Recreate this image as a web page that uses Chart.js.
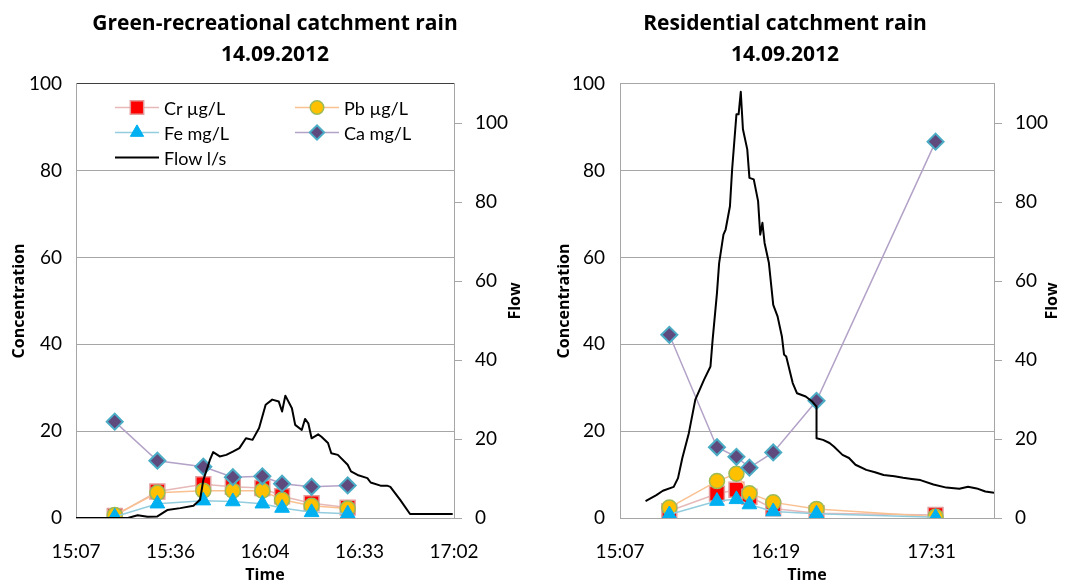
<!DOCTYPE html>
<html>
<head>
<meta charset="utf-8">
<title>Catchment rain 14.09.2012</title>
<script src="https://cdn.jsdelivr.net/npm/chart.js@4.4.1/dist/chart.umd.min.js"></script>
<style>
    body { margin: 0; background: #fff; }
    #wrap { position: relative; width: 1073px; height: 585px; overflow: hidden; font-family: Lato, sans-serif; }
    #c1 { position: absolute; left: 0; top: 0; }
    #c2 { position: absolute; left: 497px; top: 0; }
    #legend { position: absolute; left: 115px; top: 95px; display: grid; grid-template-columns: 180px 180px; }
    .item { display: flex; align-items: center; height: 25px; font-size: 18px; color: #000; white-space: nowrap; }
    .item canvas { margin-right: 5px; }
</style>
</head>
<body>
<div id="wrap">
    <canvas id="c1" width="550" height="585"></canvas>
    <canvas id="c2" width="576" height="585"></canvas>
    <div id="legend"></div>
</div>
<script>
// Axis ticks (time ticks are fractions of a day, as in the spreadsheet)
const concTicks = [0, 20, 40, 60, 80, 100];
const flowTicks = [0, 20, 40, 60, 80, 100];
const greenTimeTicks = [0.63, 0.65, 0.67, 0.69, 0.71];
const resTimeTicks = [0.63, 0.68, 0.73];

// Green-recreational catchment
const greenTimes = ['15:19', '15:32', '15:46', '15:55', '16:04', '16:10', '16:19', '16:30'];
const greenCr = [0.5, 6.1, 7.8, 7.2, 6.9, 5.0, 3.4, 2.4];
const greenPb = [0.7, 5.8, 6.3, 6.3, 6.3, 4.2, 2.8, 2.2];
const greenFe = [0.3, 3.3, 4.0, 3.8, 3.3, 2.3, 1.3, 1.0];
const greenCa = [22.2, 13.2, 11.8, 9.4, 9.6, 7.9, 7.2, 7.5];
const greenFlowTimes = ['15:07', '15:23', '15:26', '15:29', '15:32', '15:35', '15:39', '15:43', '15:45', '15:46',
    '15:48', '15:49', '15:51', '15:53', '15:55', '15:57', '15:59', '16:01', '16:03', '16:05',
    '16:07', '16:09', '16:10', '16:11', '16:13', '16:14', '16:16', '16:17', '16:18', '16:19',
    '16:21', '16:22', '16:24', '16:25', '16:27', '16:30', '16:31', '16:33', '16:36', '16:37',
    '16:40', '16:42', '16:43', '16:46', '16:49', '17:02'];
const greenFlow = [0, 0, 0.7, 0.3, 0.4, 2, 2.5, 3.1, 4.6, 9.6,
    14.7, 16.7, 15.6, 16, 16.8, 17.7, 20.2, 19.8, 22.8, 28.7,
    30, 29.5, 27, 31, 27.8, 23.6, 22.3, 25.1, 24, 20.2,
    21.2, 20.6, 19, 16.4, 16, 13.5, 11.8, 10.9, 10.1, 9,
    8.2, 8.2, 7.9, 4.6, 1.0, 1.0];

// Residential catchment
const resTimes = ['15:30', '15:52', '16:01', '16:07', '16:18', '16:38', '17:33'];
const resCr = [1.6, 5.6, 6.5, 4.9, 2.2, 1.1, 0.7];
const resPb = [2.4, 8.5, 10.2, 5.7, 3.6, 2.1, 0.3];
const resFe = [0.8, 3.9, 4.3, 3.1, 1.5, 1.0, 0.2];
const resCa = [42.2, 16.3, 14.1, 11.6, 15.1, 27.0, 86.7];
const resFlowTimes = ['15:19', '15:24', '15:27', '15:32', '15:34', '15:36', '15:39', '15:42', '15:46', '15:49',
    '15:50', '15:52', '15:53', '15:55', '15:56', '15:58', '15:59', '16:01', '16:02', '16:03',
    '16:04', '16:06', '16:07', '16:09', '16:11', '16:12', '16:13', '16:14', '16:16', '16:18',
    '16:20', '16:22', '16:23', '16:24', '16:27', '16:29', '16:33', '16:36', '16:38', '16:38',
    '16:41', '16:44', '16:46', '16:50', '16:53', '16:56', '17:01', '17:05', '17:09', '17:14',
    '17:18', '17:22', '17:26', '17:32', '17:38', '17:44', '17:48', '17:52', '17:56', '18:00'];
const resFlow = [4.3, 5.8, 6.9, 7.9, 10.1, 15.2, 21.5, 30, 35, 38.4,
    45.2, 57, 64.6, 71.8, 73.1, 79, 88.3, 102.3, 102.3, 108,
    98.5, 93.4, 86.2, 85.8, 80.3, 71.8, 74.8, 69.7, 64.6, 54,
    51.1, 46, 41.4, 40.9, 34.2, 31.6, 30.8, 29.5, 28.2, 20.2,
    19.8, 19.0, 18.1, 16, 15.2, 13.5, 12.2, 11.6, 10.9, 10.6,
    10.2, 9.9, 9.6, 8.5, 7.7, 7.4, 7.9, 7.5, 6.7, 6.4];

const FONT = 'Lato';
const BOLD = '"Open Sans"';
const GRID = '#A6A6A6';

// "HH:MM" -> minutes of the day
function toMin(t) {
    const p = t.split(':');
    return Number(p[0]) * 60 + Number(p[1]);
}

// minutes of the day -> "HH:MM"
function fmtTime(m) {
    const v = Math.floor(m + 1e-6);
    const h = Math.floor(v / 60);
    const mm = v % 60;
    return h + ':' + (mm < 10 ? '0' : '') + mm;
}

function points(times, values) {
    return times.map((t, i) => ({ x: toMin(t), y: values[i] }));
}

function seriesSets(times, cr, pb, fe, ca, flowTimes, flow) {
    return [{
        label: 'Flow l/s',
        data: points(flowTimes, flow),
        yAxisID: 'y1',
        borderColor: '#000000',
        borderWidth: 2,
        pointRadius: 0,
        borderJoinStyle: 'round',
        order: 0
    }, {
        label: 'Ca mg/L',
        data: points(times, ca),
        yAxisID: 'y',
        borderColor: '#B3A2C7',
        borderWidth: 1.5,
        pointStyle: 'rectRot',
        pointRadius: 8,
        pointBackgroundColor: '#5F4A7E',
        pointBorderColor: '#4BACC6',
        pointBorderWidth: 2,
        order: 1
    }, {
        label: 'Fe mg/L',
        data: points(times, fe),
        yAxisID: 'y',
        borderColor: '#93CDDD',
        borderWidth: 1.5,
        pointStyle: 'triangle',
        pointRadius: 8.5,
        pointBackgroundColor: '#00B0F0',
        pointBorderColor: '#00B0F0',
        pointBorderWidth: 1,
        order: 2
    }, {
        label: 'Pb µg/L',
        data: points(times, pb),
        yAxisID: 'y',
        borderColor: '#FAC090',
        borderWidth: 1.5,
        pointStyle: 'circle',
        pointRadius: 7.5,
        pointBackgroundColor: '#FFC000',
        pointBorderColor: '#9BBB59',
        pointBorderWidth: 1.5,
        order: 3
    }, {
        label: 'Cr µg/L',
        data: points(times, cr),
        yAxisID: 'y',
        borderColor: '#E6B9B8',
        borderWidth: 1.5,
        pointStyle: 'rect',
        pointRadius: 10.5,
        pointBackgroundColor: '#FF0000',
        pointBorderColor: '#E39C9B',
        pointBorderWidth: 1.5,
        order: 4
    }];
}

// Right axis title reads bottom-to-top like the spreadsheet's
const flowTitle = {
    id: 'flowTitle',
    afterDraw(chart, args, opts) {
        const s = chart.scales.y1;
        const ctx = chart.ctx;
        ctx.save();
        ctx.translate(s.right - opts.offset, (s.top + s.bottom) / 2);
        ctx.rotate(-Math.PI / 2);
        ctx.font = 'bold 16px ' + BOLD;
        ctx.fillStyle = '#000';
        ctx.textAlign = 'center';
        ctx.textBaseline = 'middle';
        ctx.fillText(opts.text, 0, 0);
        ctx.restore();
    }
};

function makeChart(id, cfg) {
    const tickFont = { family: FONT, size: 19 };
    const titleFont = { family: BOLD, size: 16, weight: 'bold' };
    return new Chart(document.getElementById(id), {
        type: 'line',
        data: { datasets: cfg.datasets },
        plugins: [flowTitle],
        options: {
            responsive: false,
            animation: false,
            layout: { padding: 0 },
            plugins: {
                legend: { display: false },
                tooltip: { enabled: false },
                title: {
                    display: true,
                    text: cfg.title,
                    color: '#000',
                    font: { family: BOLD, size: 21, weight: 'bold', lineHeight: 1.45 },
                    padding: { top: 9, bottom: 14 }
                },
                flowTitle: { text: 'Flow', offset: cfg.flowOffset }
            },
            scales: {
                x: {
                    type: 'linear',
                    min: cfg.tMin * 1440,
                    max: cfg.tMax * 1440,
                    afterBuildTicks: s => { s.ticks = cfg.timeTicks.map(v => ({ value: v * 1440 })); },
                    afterFit: s => { s.height = 67; },
                    grid: { display: false },
                    border: { color: GRID },
                    ticks: { font: tickFont, color: '#000', padding: 14, maxRotation: 0, autoSkip: false,
                        callback: v => fmtTime(v) },
                    title: { display: true, text: 'Time', color: '#000', font: titleFont, padding: 0 }
                },
                y: {
                    position: 'left',
                    min: 0,
                    max: 100,
                    afterBuildTicks: s => { s.ticks = concTicks.map(v => ({ value: v })); },
                    afterFit: s => { s.width = cfg.leftWidth; },
                    grid: { drawTicks: false, color: c => (c.tick && c.tick.value === 100 ? cfg.topLine : GRID) },
                    border: { color: GRID },
                    ticks: { font: tickFont, color: '#000', padding: cfg.leftPad },
                    title: { display: true, text: 'Concentration', color: '#000', font: titleFont,
                        padding: { top: cfg.concOffset, bottom: 0 } }
                },
                y1: {
                    position: 'right',
                    min: 0,
                    max: 110,
                    afterBuildTicks: s => { s.ticks = flowTicks.map(v => ({ value: v })); },
                    afterFit: s => { s.width = cfg.rightWidth; },
                    grid: { drawOnChartArea: false, drawTicks: true, tickLength: 8, color: GRID },
                    border: { color: GRID },
                    ticks: { font: tickFont, color: '#000', padding: 13 }
                }
            }
        }
    });
}

const greenChart = makeChart('c1', {
    title: ['Green-recreational catchment rain', '14.09.2012'],
    datasets: seriesSets(greenTimes, greenCr, greenPb, greenFe, greenCa, greenFlowTimes, greenFlow),
    tMin: 0.63, tMax: 0.71, timeTicks: greenTimeTicks,
    leftWidth: 76, rightWidth: 96, leftPad: 14, concOffset: 10, flowOffset: 35,
    topLine: '#404040'
});

makeChart('c2', {
    title: ['Residential catchment rain', '14.09.2012'],
    datasets: seriesSets(resTimes, resCr, resPb, resFe, resCa, resFlowTimes, resFlow),
    tMin: 0.63, tMax: 0.75, timeTicks: resTimeTicks,
    leftWidth: 123, rightWidth: 79, leftPad: 15, concOffset: 58, flowOffset: 21,
    topLine: GRID
});

// HTML legend built from the first chart's datasets (Cr, Pb / Fe, Ca / Flow)
function buildLegend(chart) {
    const box = document.getElementById('legend');
    const sets = chart.data.datasets;
    const order = ['Cr µg/L', 'Pb µg/L', 'Fe mg/L', 'Ca mg/L', 'Flow l/s'];
    order.forEach(name => {
        const ds = sets.find(d => d.label === name);
        const item = document.createElement('div');
        item.className = 'item';
        const cv = document.createElement('canvas');
        cv.width = 44;
        cv.height = 25;
        const ctx = cv.getContext('2d');
        ctx.strokeStyle = ds.borderColor;
        ctx.lineWidth = ds.borderWidth;
        ctx.beginPath();
        ctx.moveTo(0, 12.5);
        ctx.lineTo(44, 12.5);
        ctx.stroke();
        if (ds.pointRadius > 0) {
            ctx.fillStyle = ds.pointBackgroundColor;
            ctx.strokeStyle = ds.pointBorderColor;
            ctx.lineWidth = ds.pointBorderWidth;
            Chart.helpers.drawPoint(ctx, {
                pointStyle: ds.pointStyle,
                radius: ds.pointRadius * 0.9,
                borderWidth: ds.pointBorderWidth,
                rotation: 0
            }, 22, 12.5);
        }
        const label = document.createElement('span');
        label.textContent = ds.label;
        item.appendChild(cv);
        item.appendChild(label);
        box.appendChild(item);
    });
}

buildLegend(greenChart);
</script>
</body>
</html>
